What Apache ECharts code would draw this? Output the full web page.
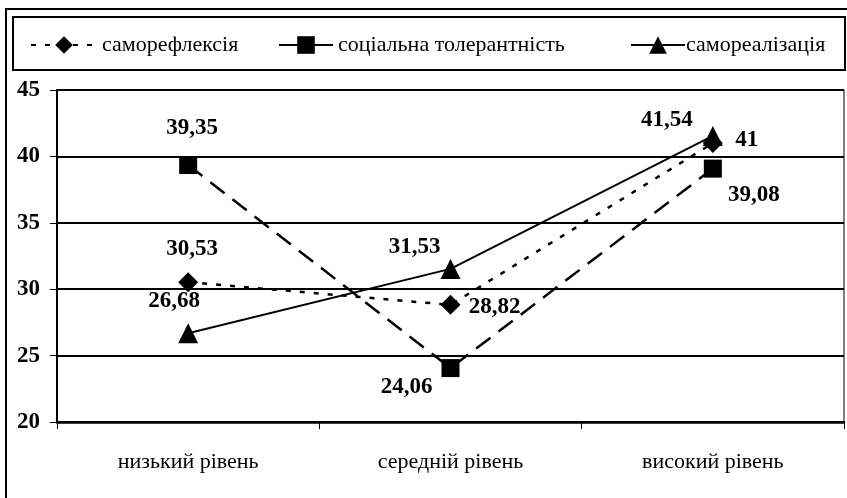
<!DOCTYPE html>
<html>
<head>
<meta charset="utf-8">
<script src="https://cdn.jsdelivr.net/npm/echarts@6/dist/echarts.min.js"></script>
<style>html,body{margin:0;padding:0;background:#fff;}#c{width:847px;height:498px;}</style>
</head>
<body>
<div id="c"></div>
<script>
var categories = ['низький рівень', 'середній рівень', 'високий рівень'];
var seriesNames = ['саморефлексія', 'соціальна толерантність', 'самореалізація'];
var selfReflection = [30.53, 28.82, 41];
var socialTolerance = [39.35, 24.06, 39.08];
var selfRealization = [26.68, 31.53, 41.54];
var yTicks = [20, 25, 30, 35, 40, 45];

// label offsets (style only)
var offsRefl = [[4, -33], [44, 2], [34, -3]];
var offsTol = [[4, -37], [-44, 19], [41, 26]];
var offsReal = [[-14, -32], [-36, -22], [-46, -16]];

var FONT = '"Liberation Serif", "DejaVu Serif", serif';

function fmt(v) { return String(v).replace('.', ','); }
function mkData(vals, offs) {
  return vals.map(function (v, i) {
    return { value: v, label: { offset: offs[i] } };
  });
}
var labelBase = {
  show: true, position: 'inside', color: '#000', fontFamily: FONT,
  fontWeight: 'bold', fontSize: 23,
  formatter: function (p) { return fmt(p.value); }
};

var chart = echarts.init(document.getElementById('c'), null, { renderer: 'canvas' });
var legendCommon = {
  top: 34, padding: 0, itemHeight: 22,
  textStyle: { fontFamily: FONT, fontSize: 22, color: '#000' }
};
chart.setOption({
  animation: false,
  backgroundColor: '#fff',
  graphic: [
    { type: 'rect', shape: { x: 6, y: 9, width: 860, height: 520 }, style: { fill: 'none', stroke: '#000', lineWidth: 2 }, silent: true },
    { type: 'rect', shape: { x: 13, y: 17, width: 832, height: 53 }, style: { fill: 'none', stroke: '#000', lineWidth: 2 }, silent: true }
  ],
  legend: [
    Object.assign({}, legendCommon, { left: 30, itemWidth: 66, data: [seriesNames[0]] }),
    Object.assign({}, legendCommon, { left: 278, itemWidth: 54, data: [{ name: seriesNames[1], lineStyle: { type: 'solid' } }] }),
    Object.assign({}, legendCommon, { left: 630, itemWidth: 54, data: [seriesNames[2]], textStyle: { fontFamily: FONT, fontSize: 22, color: '#000', padding: [0, 0, 0, -4] } })
  ],
  grid: { left: 57, right: 3, top: 90, bottom: 76, show: true, borderColor: '#000', borderWidth: 1 },
  xAxis: {
    type: 'category', data: categories, boundaryGap: true,
    axisLine: { lineStyle: { color: '#000', width: 2.5 } },
    axisTick: { show: true, length: 7, lineStyle: { color: '#000', width: 1 } },
    axisLabel: { color: '#000', fontFamily: FONT, fontSize: 22, margin: 29 }
  },
  yAxis: {
    type: 'value', min: yTicks[0], max: yTicks[yTicks.length - 1], interval: 5,
    axisLine: { show: true, lineStyle: { color: '#000', width: 2 } },
    axisTick: { show: true, length: 7, lineStyle: { color: '#000', width: 1 } },
    axisLabel: { color: '#000', fontFamily: FONT, fontSize: 23, fontWeight: 'bold', margin: 17 },
    splitLine: { show: true, lineStyle: { color: '#000', width: 1.8 } }
  },
  series: [
    {
      name: seriesNames[0], type: 'line', data: mkData(selfReflection, offsRefl),
      symbol: 'diamond', symbolSize: 20,
      itemStyle: { color: '#000' },
      lineStyle: { color: '#000', width: 2.5, type: [5, 9] },
      label: labelBase, z: 3
    },
    {
      name: seriesNames[1], type: 'line', data: mkData(socialTolerance, offsTol),
      symbol: 'rect', symbolSize: 18,
      itemStyle: { color: '#000' },
      lineStyle: { color: '#000', width: 2.5, type: [18, 10] },
      label: labelBase, z: 2
    },
    {
      name: seriesNames[2], type: 'line', data: mkData(selfRealization, offsReal),
      symbol: 'triangle', symbolSize: 20,
      itemStyle: { color: '#000' },
      lineStyle: { color: '#000', width: 2 },
      label: labelBase, z: 4
    }
  ]
});
</script>
</body>
</html>
